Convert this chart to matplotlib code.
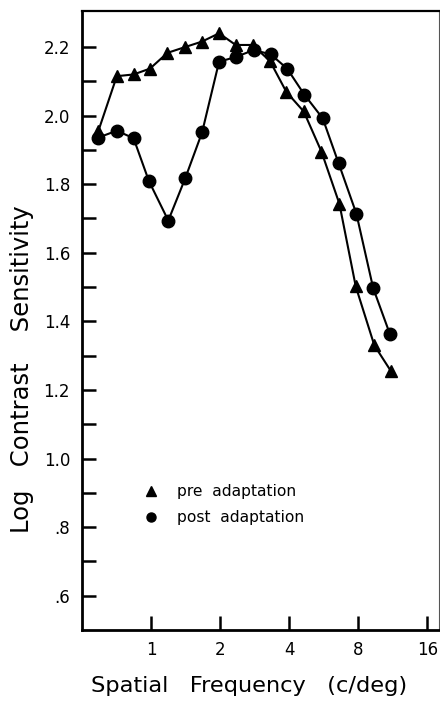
import matplotlib
matplotlib.use('Agg')
import matplotlib.pyplot as plt
from matplotlib.ticker import FixedLocator, NullFormatter, NullLocator

# Frecuencias espaciales (c/deg) y sensibilidad (log) antes y despues de la adaptacion
frec_pre = [0.59, 0.71, 0.84, 0.99, 1.18, 1.41, 1.67, 1.98, 2.34, 2.77, 3.3, 3.89,
            4.63, 5.53, 6.62, 7.8, 9.4, 11.1]
sens_pre = [1.955, 2.115, 2.12, 2.137, 2.183, 2.20, 2.216, 2.24, 2.206, 2.206, 2.159,
            2.069, 2.012, 1.895, 1.743, 1.502, 1.33, 1.255]

frec_post = [0.59, 0.71, 0.84, 0.98, 1.19, 1.41, 1.67, 1.98, 2.34, 2.8, 3.32, 3.92,
             4.66, 5.6, 6.57, 7.85, 9.29, 11.0]
sens_post = [1.936, 1.956, 1.934, 1.809, 1.694, 1.817, 1.951, 2.157, 2.171, 2.191,
             2.179, 2.137, 2.061, 1.992, 1.861, 1.714, 1.497, 1.362]

ticks_x = [1, 2, 4, 8, 16]
ticks_y = [0.6, 0.8, 1.0, 1.2, 1.4, 1.6, 1.8, 2.0, 2.2]
etiquetas_y = ['.6', '.8', '1.0', '1.2', '1.4', '1.6', '1.8', '2.0', '2.2']

fig = plt.figure(figsize=(4.4, 7.06), dpi=100)
ax = fig.add_axes([0.186, 0.1076, 0.812, 0.8768])

ax.plot(frec_pre, sens_pre, color='black', linewidth=1.5, marker='^', markersize=8.5)
ax.plot(frec_post, sens_post, color='black', linewidth=1.5, marker='o', markersize=9)

ax.set_xscale('log')
ax.set_xlim(0.5, 18)
ax.set_ylim(0.5, 2.305)

ax.xaxis.set_major_locator(FixedLocator(ticks_x))
ax.xaxis.set_minor_locator(NullLocator())
ax.set_xticklabels([str(t) for t in ticks_x])
ax.set_yticks(ticks_y)
ax.set_yticklabels(etiquetas_y)
ax.yaxis.set_minor_locator(FixedLocator([0.7, 0.9, 1.1, 1.3, 1.5, 1.7, 1.9, 2.1]))
ax.yaxis.set_minor_formatter(NullFormatter())

ax.tick_params(axis='both', which='both', direction='in', length=10, width=1.8,
               labelsize=12, color='black')
ax.tick_params(axis='x', pad=7.7)
ax.tick_params(axis='y', pad=8.5)

for lado in ['left', 'bottom']:
    ax.spines[lado].set_linewidth(2)
ax.spines['top'].set_linewidth(1.6)
ax.spines['right'].set_linewidth(0.8)
ax.spines['right'].set_color('#555555')

# Leyenda dibujada a mano
ax.plot([1.0], [0.904], marker='^', color='black', markersize=6.5, linestyle='none')
ax.plot([1.0], [0.829], marker='o', color='black', markersize=6.5, linestyle='none')
ax.text(1.3, 0.904, 'pre  adaptation', fontsize=11.2, va='center', ha='left')
ax.text(1.3, 0.829, 'post  adaptation', fontsize=11.2, va='center', ha='left')

fig.text(0.566, 0.028, 'Spatial   Frequency   (c/deg)', fontsize=16.2,
         ha='center', va='center')
fig.text(0.051, 0.477, 'Log   Contrast    Sensitivity', fontsize=17.5,
         ha='center', va='center', rotation=90)

fig.savefig('out.png', dpi=100)
